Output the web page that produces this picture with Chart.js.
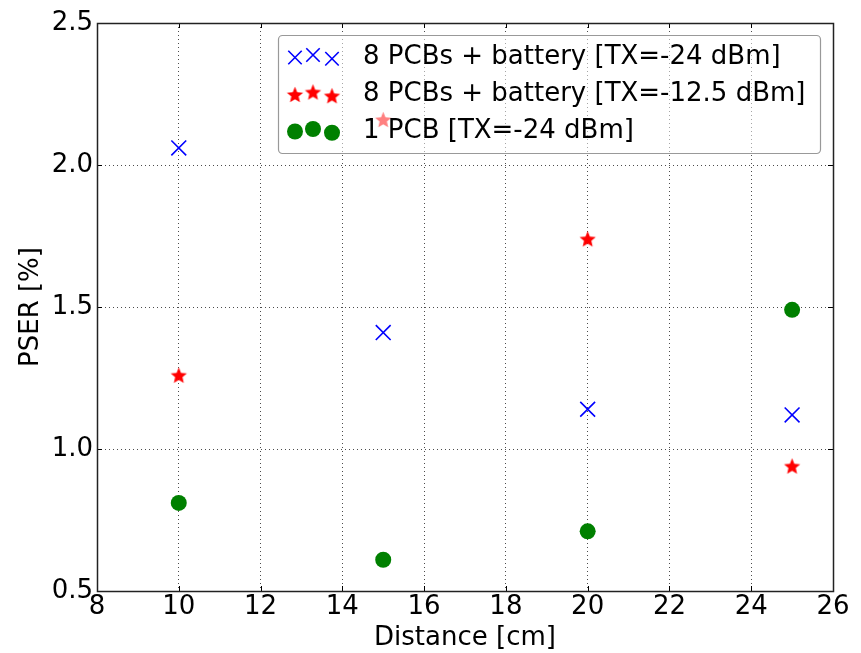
<!DOCTYPE html>
<html>
<head>
<meta charset="utf-8">
<script src="https://cdn.jsdelivr.net/npm/chart.js@4/dist/chart.umd.min.js"></script>
<style>
  html, body { margin: 0; padding: 0; background: #fff; }
  #wrap { width: 861px; height: 653px; }
</style>
</head>
<body>
<div id="wrap"><canvas id="grafico" width="861" height="653"></canvas></div>
<script>
// data
const distancias = [10, 15, 20, 25];
const pserTx24 = [2.06, 1.41, 1.14, 1.12];
const pserTx125 = [1.26, 2.16, 1.74, 0.94];
const pser1pcb = [0.81, 0.61, 0.71, 1.49];
const rotulos = [
    '8 PCBs + battery [TX=-24 dBm]',
    '8 PCBs + battery [TX=-12.5 dBm]',
    '1 PCB [TX=-24 dBm]'
];
const xMin = 8, xMax = 26, xStep = 2;
const yMin = 0.5, yMax = 2.5, yStep = 0.5;

const FONTE = "'DejaVu Sans', 'Liberation Sans', sans-serif";
const TAM = 26;

// filled star marker (matplotlib '*')
function fazerEstrela(cor, r) {
    const c = document.createElement('canvas');
    const s = Math.ceil(r * 2 + 2);
    c.width = s; c.height = s;
    const g = c.getContext('2d');
    g.translate(s / 2, s / 2 + r * 0.1);
    g.beginPath();
    for (let i = 0; i < 10; i++) {
        const rr = i % 2 === 0 ? r : r * 0.45;
        const a = -Math.PI / 2 + i * Math.PI / 5;
        g.lineTo(rr * Math.cos(a), rr * Math.sin(a));
    }
    g.closePath();
    g.fillStyle = cor;
    g.fill();
    return c;
}
const estrela = fazerEstrela('#ff0000', 8.5);

function pares(ys) {
    return distancias.map((x, i) => ({ x: x, y: ys[i] }));
}

const fundoBranco = {
    id: 'fundoBranco',
    beforeDraw(chart) {
        const c = chart.ctx;
        c.save();
        c.fillStyle = '#fff';
        c.fillRect(0, 0, chart.width, chart.height);
        c.restore();
    }
};

// frame + inward ticks on all four sides
const moldura = {
    id: 'moldura',
    afterDatasetsDraw(chart) {
        const c = chart.ctx;
        const a = chart.chartArea;
        const sx = chart.scales.x, sy = chart.scales.y;
        c.save();
        c.strokeStyle = '#000';
        c.lineWidth = 1;
        c.beginPath();
        for (let v = xMin + xStep; v < xMax; v += xStep) {
            const px = Math.round(sx.getPixelForValue(v)) + 0.5;
            c.moveTo(px, a.bottom); c.lineTo(px, a.bottom - 5);
            c.moveTo(px, a.top); c.lineTo(px, a.top + 5);
        }
        for (let v = yMin + yStep; v < yMax; v += yStep) {
            const py = Math.round(sy.getPixelForValue(v)) + 0.5;
            c.moveTo(a.left, py); c.lineTo(a.left + 5, py);
            c.moveTo(a.right, py); c.lineTo(a.right - 5, py);
        }
        c.stroke();
        c.lineWidth = 1.5;
        c.strokeStyle = '#222';
        c.strokeRect(Math.round(a.left) + 0.5, Math.round(a.top) + 0.5,
            Math.round(a.right - a.left), Math.round(a.bottom - a.top));
        c.restore();
    }
};

// matplotlib-style legend with three scatter points per entry
const legenda = {
    id: 'legenda',
    afterDraw(chart) {
        const c = chart.ctx;
        const a = chart.chartArea;
        const bx = a.left + 181, by = a.top + 12, bw = 542, bh = 118;
        c.save();
        c.beginPath();
        c.roundRect(bx + 0.5, by + 0.5, bw, bh, 4);
        c.fillStyle = 'rgba(255,255,255,0.5)';
        c.fill();
        c.strokeStyle = '#999';
        c.lineWidth = 1.2;
        c.stroke();

        const offs = [0.375, 0.5, 0.3125];
        const mx = [bx + 17, bx + 35, bx + 54];
        chart.data.datasets.forEach((ds, i) => {
            const cy = by + 22 + i * 37;
            for (let k = 0; k < 3; k++) {
                const py = cy - 2 + (0.5 - offs[k]) * 20;
                c.fillStyle = ds.backgroundColor;
                c.strokeStyle = ds.borderColor;
                c.lineWidth = ds.borderWidth;
                Chart.helpers.drawPoint(c, {
                    pointStyle: ds.pointStyle,
                    radius: ds.pointRadius === 10.5 ? 9.5 : ds.pointRadius,
                    borderWidth: ds.borderWidth,
                    rotation: 0
                }, mx[k], py);
            }
            c.fillStyle = '#000';
            c.font = TAM + 'px ' + FONTE;
            c.textBaseline = 'middle';
            c.textAlign = 'left';
            c.fillText(ds.label, bx + 85, cy);
        });
        c.restore();
    }
};

const ctx = document.getElementById('grafico').getContext('2d');

const grafico = new Chart(ctx, {
    type: 'scatter',
    data: {
        datasets: [
            {
                label: rotulos[0],
                data: pares(pserTx24),
                pointStyle: 'crossRot',
                pointRadius: 10.5,
                borderWidth: 1.6,
                borderColor: '#0000ff',
                backgroundColor: '#0000ff'
            },
            {
                label: rotulos[1],
                data: pares(pserTx125),
                pointStyle: estrela,
                pointRadius: 8,
                borderWidth: 0,
                borderColor: '#ff0000',
                backgroundColor: '#ff0000'
            },
            {
                label: rotulos[2],
                data: pares(pser1pcb),
                pointStyle: 'circle',
                pointRadius: 8,
                borderWidth: 0,
                borderColor: '#008000',
                backgroundColor: '#008000'
            }
        ]
    },
    options: {
        responsive: false,
        animation: false,
        events: [],
        layout: { padding: { top: 23, right: 28, left: 0, bottom: 0 } },
        plugins: {
            legend: { display: false },
            tooltip: { enabled: false }
        },
        scales: {
            x: {
                type: 'linear',
                min: xMin,
                max: xMax,
                afterFit: s => { s.height = 62; },
                ticks: {
                    stepSize: xStep,
                    color: '#000',
                    padding: 1,
                    font: { family: FONTE, size: TAM }
                },
                grid: { color: 'rgba(0,0,0,0.7)', lineWidth: 1, drawTicks: false },
                border: { display: false, dash: [1, 3] },
                title: {
                    display: true,
                    text: 'Distance [cm]',
                    color: '#000',
                    font: { family: FONTE, size: TAM, lineHeight: 1.1 },
                    padding: { top: 0, bottom: 0 }
                }
            },
            y: {
                type: 'linear',
                min: yMin,
                max: yMax,
                afterFit: s => { s.width = 97; },
                ticks: {
                    stepSize: yStep,
                    color: '#000',
                    padding: 4,
                    font: { family: FONTE, size: TAM },
                    callback: v => v.toFixed(1)
                },
                grid: { color: 'rgba(0,0,0,0.7)', lineWidth: 1, drawTicks: false },
                border: { display: false, dash: [1, 3] },
                title: {
                    display: true,
                    text: 'PSER [%]',
                    color: '#000',
                    font: { family: FONTE, size: TAM },
                    padding: { top: 16, bottom: 0 }
                }
            }
        }
    },
    plugins: [fundoBranco, moldura, legenda]
});
</script>
</body>
</html>
